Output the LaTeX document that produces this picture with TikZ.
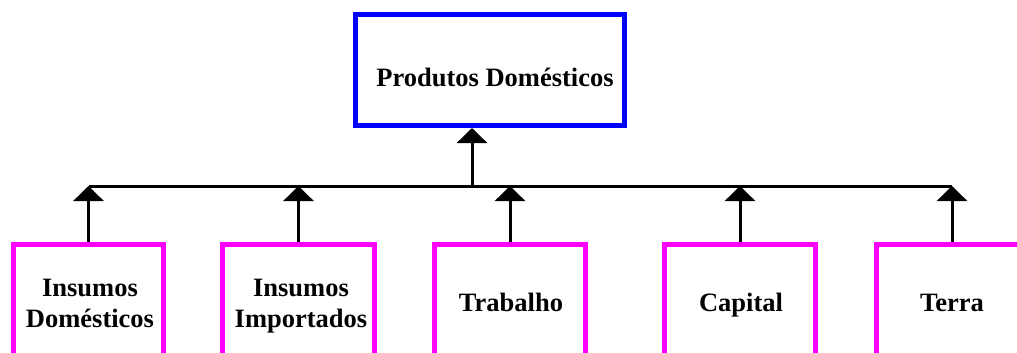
\documentclass[tikz,border=0pt]{standalone}
\usepackage{fontspec}
\setmainfont{Liberation Serif}
\usetikzlibrary{arrows.meta}
\begin{document}
\begin{tikzpicture}[x=1pt,y=-1pt,
 topbox/.style={draw={rgb,255:red,0;green,0;blue,255}, line width=5pt, minimum width=269pt, minimum height=111pt, inner sep=0pt, anchor=north west},
 botbox/.style={draw={rgb,255:red,255;green,0;blue,255}, line width=5pt, inner sep=0pt, minimum width=151pt, minimum height=200pt, anchor=north west},
 lbl/.style={font=\bfseries\fontsize{26.5}{31}\selectfont, align=center, anchor=base, inner sep=0pt},
 conn/.style={line width=3pt, -{Triangle[width=30pt,length=15pt]}},
 busline/.style={line width=3pt}]
\useasboundingbox (0,0) rectangle (1017,353);
\clip (0,0) rectangle (1017,353);
\node[topbox] (top) at (353,12) {};
\node[botbox, minimum width=150pt] (b1) at (11,242) {};
\node[botbox, minimum width=152pt] (b2) at (220,242) {};
\node[botbox] (b3) at (432,242) {};
\node[botbox] (b4) at (662,242) {};
\node[botbox] (b5) at (874,242) {};
\node[lbl] (ttop) at (495,86) {Produtos Domésticos};
\node[lbl] (t1) at (90,327) {Insumos\\Domésticos};
\node[lbl] (t2) at (301,327) {Insumos\\Importados};
\node[lbl] (t3) at (511,311) {Trabalho};
\node[lbl] (t4) at (741,311) {Capital};
\node[lbl] (t5) at (952,311) {Terra};
\coordinate (bus) at (0,186);
\coordinate (tc) at (472,186);
\draw[busline] (b1.north |- bus) -- (b5.north |- bus);
\draw[conn] (tc) -- (tc |- top.south);
\foreach \b in {b1,b2,b3,b4,b5}
  \draw[conn] (\b.north) -- (\b.north |- bus);
\end{tikzpicture}
\end{document}
